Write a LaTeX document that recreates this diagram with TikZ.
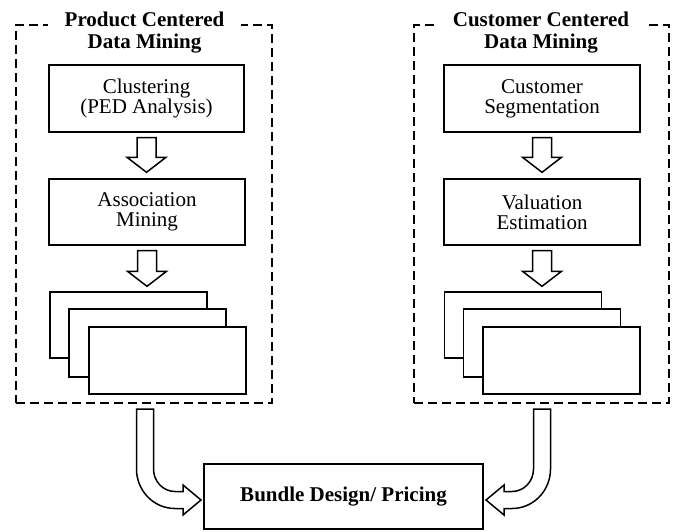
\documentclass[tikz,border=0pt]{standalone}
\usepackage{fontspec}
\setmainfont{Liberation Serif}
\usetikzlibrary{calc}
\tikzset{
 box/.style={draw, line width=1.4pt, fill=white, align=center, inner sep=0pt, font=\fontsize{21}{20}\selectfont},
 region/.style={draw, line width=2pt, dash pattern=on 9pt off 5pt, inner sep=0pt},
 title/.style={fill=white, align=center, inner xsep=17pt, inner ysep=1pt, font=\fontsize{21}{22}\selectfont\bfseries},
 harrow/.style={draw, line width=1.5pt, fill=white, line join=miter},
}
\newcommand\HollowDown[4]{%
 \draw[harrow] let \p1=#1, \p2=#2 in
 (\x1-9.5pt,\y1-#3) -- (\x1+9.5pt,\y1-#3) -- (\x1+9.5pt,\y2+#4+15pt) -- (\x1+19.5pt,\y2+#4+15pt)
 -- (\x1,\y2+#4) -- (\x1-19.5pt,\y2+#4+15pt) -- (\x1-9.5pt,\y2+#4+15pt) -- cycle;}
\newcommand\CurvedArrowPath{%
 (136.5,409) -- (136.5,469) .. controls (136.5,490.8) and (153.7,508.5) .. (175,508.5)
 -- (183,508.5) -- (183,515) -- (201,500) -- (183,485) -- (183,491.5) -- (175,491.5)
 .. controls (163.1,491.5) and (153.5,481.4) .. (153.5,469) -- (153.5,409) -- cycle}
\begin{document}
\begin{tikzpicture}[x=1pt,y=-1pt]
\useasboundingbox (0,0) rectangle (676,531);
% regions
\node[region, minimum width=256pt, minimum height=378pt] (L) at (144,214) {};
\node[region, minimum width=255pt, minimum height=378pt] (R) at (541.5,214) {};
\node[title] (Lt) at (144.5,33) {Product Centered\\Data Mining};
\node[title] (Rt) at (541,33) {Customer Centered\\Data Mining};
% left column
\node[box, minimum width=195pt, minimum height=67pt] (clu) at (146.5,98.5) {Clustering\\(PED Analysis)};
\node[box, minimum width=196pt, minimum height=66pt] (asso) at (147,212) {Association\\Mining};
\node[box, minimum width=157pt, minimum height=66pt] (ls1) at (128.5,325) {};
\node[box, minimum width=157pt, minimum height=68pt] (ls2) at (147.5,343) {};
\node[box, minimum width=157pt, minimum height=67pt] (ls3) at (167.5,360.5) {};
% right column
\node[box, minimum width=196pt, minimum height=67pt] (cs) at (542,98.5) {Customer\\Segmentation};
\node[box, minimum width=196pt, minimum height=66pt] (ve) at (542,212) {Valuation\\Estimation};
\node[box, minimum width=157pt, minimum height=66pt] (rs1) at (523,325) {};
\node[box, minimum width=157pt, minimum height=68pt] (rs2) at (542,343) {};
\node[box, minimum width=157pt, minimum height=67pt] (rs3) at (561.5,360.5) {};
% bundle
\node[box, font=\fontsize{21}{22}\selectfont\bfseries, minimum width=279pt, minimum height=65pt] (B) at (343.5,496.5) {Bundle Design/ Pricing};
% hollow arrows
\HollowDown{(clu.south)}{(asso.north)}{5pt}{6pt}
\HollowDown{(asso.south)}{(ls1.north)}{5pt}{5pt}
\HollowDown{(cs.south)}{(ve.north)}{5pt}{6pt}
\HollowDown{(ve.south)}{(rs1.north)}{5pt}{5pt}
% curved arrows into bundle
\draw[harrow] \CurvedArrowPath;
\begin{scope}[xshift=687pt, xscale=-1]
\draw[harrow] \CurvedArrowPath;
\end{scope}
\end{tikzpicture}
\end{document}
